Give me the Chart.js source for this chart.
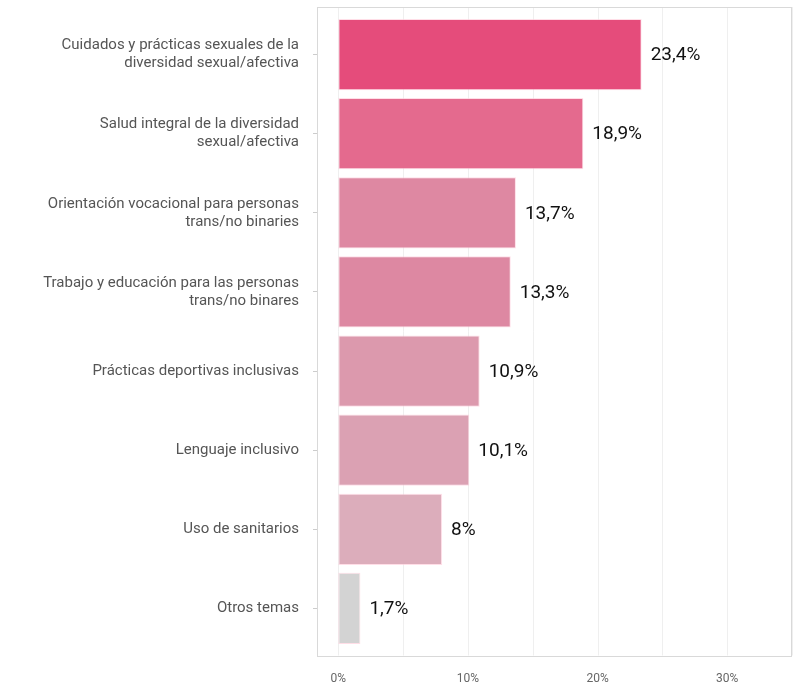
<!DOCTYPE html>
<html>
<head>
<meta charset="utf-8">
<script src="https://cdn.jsdelivr.net/npm/chart.js@4"></script>
<style>
html,body{margin:0;padding:0;background:#fff;}
#wrap{width:800px;height:700px;}
</style>
</head>
<body>
<div id="wrap"><canvas id="c" width="800" height="700"></canvas></div>
<script>
const categories = [
  ["Cuidados y prácticas sexuales de la", "diversidad sexual/afectiva"],
  ["Salud integral de la diversidad", "sexual/afectiva"],
  ["Orientación vocacional para personas", "trans/no binaries"],
  ["Trabajo y educación para las personas", "trans/no binares"],
  "Prácticas deportivas inclusivas",
  "Lenguaje inclusivo",
  "Uso de sanitarios",
  "Otros temas"
];
const values = [23.4, 18.9, 13.7, 13.3, 10.9, 10.1, 8, 1.7];
const valueLabels = ["23,4%", "18,9%", "13,7%", "13,3%", "10,9%", "10,1%", "8%", "1,7%"];
const barColors = ["#e54c7b", "#e46a8e", "#de88a2", "#dd88a2", "#dc99ad", "#dba1b3", "#dcadbb", "#d3d3d3"];
const gridValues = [0, 5, 10, 15, 20, 25, 30, 35];

const PAD_TOP = 8, PAD_BOTTOM = 7.5;

const framePlugin = {
  id: 'frame',
  beforeDatasetsDraw(chart) {
    const {ctx, chartArea, scales} = chart;
    const top = chartArea.top - PAD_TOP, bottom = chartArea.bottom + PAD_BOTTOM;
    ctx.save();
    ctx.strokeStyle = '#efefef';
    ctx.lineWidth = 1;
    gridValues.forEach(v => {
      const x = Math.round(scales.x.getPixelForValue(v)) + 0.5;
      ctx.beginPath(); ctx.moveTo(x, top); ctx.lineTo(x, bottom); ctx.stroke();
    });
    ctx.strokeStyle = '#d9d9d9';
    ctx.strokeRect(Math.round(chartArea.left) + 0.5, Math.round(top) + 0.5,
      Math.round(chartArea.right - chartArea.left) - 1, Math.round(bottom - top));
    ctx.restore();
  },
  afterDatasetsDraw(chart) {
    const {ctx} = chart;
    const meta = chart.getDatasetMeta(0);
    ctx.save();
    ctx.font = '19px Roboto';
    ctx.fillStyle = '#111';
    ctx.textAlign = 'left';
    ctx.textBaseline = 'middle';
    meta.data.forEach((bar, i) => {
      ctx.fillText(valueLabels[i], bar.x + 9, bar.y + 1);
    });
    ctx.restore();
  }
};

new Chart(document.getElementById('c'), {
  type: 'bar',
  data: {
    labels: categories,
    datasets: [{
      data: values,
      backgroundColor: barColors,
      borderColor: 'rgba(255,200,215,0.6)',
      borderWidth: 1,
      borderSkipped: false,
      categoryPercentage: 0.9,
      barPercentage: 1.0
    }]
  },
  options: {
    indexAxis: 'y',
    responsive: false,
    animation: false,
    layout: {padding: {top: 15, right: 8, left: 0, bottom: 0}},
    plugins: {legend: {display: false}, tooltip: {enabled: false}},
    scales: {
      x: {
        min: -1.65,
        max: 35,
        grid: {display: false},
        border: {display: false},
        afterFit(s) { s.height = 52; s.paddingLeft = 0; s.paddingRight = 0; },
        ticks: {
          stepSize: 10,
          includeBounds: false,
          padding: 16,
          color: '#666',
          font: {family: 'Roboto', size: 12},
          callback(v) { return (v >= 0 && Math.abs(v % 10) < 1e-9) ? v + '%' : ''; }
        }
      },
      y: {
        grid: {display: true, offset: false, drawOnChartArea: false, drawTicks: true, tickLength: 4, color: '#cccccc'},
        border: {display: false},
        afterFit(s) { s.width = 317; s.paddingTop = 0; s.paddingBottom = 0; },
        ticks: {
          padding: 14,
          color: '#555',
          font: {family: 'Roboto', size: 15, lineHeight: 1.2}
        }
      }
    }
  },
  plugins: [framePlugin]
});
</script>
</body>
</html>
